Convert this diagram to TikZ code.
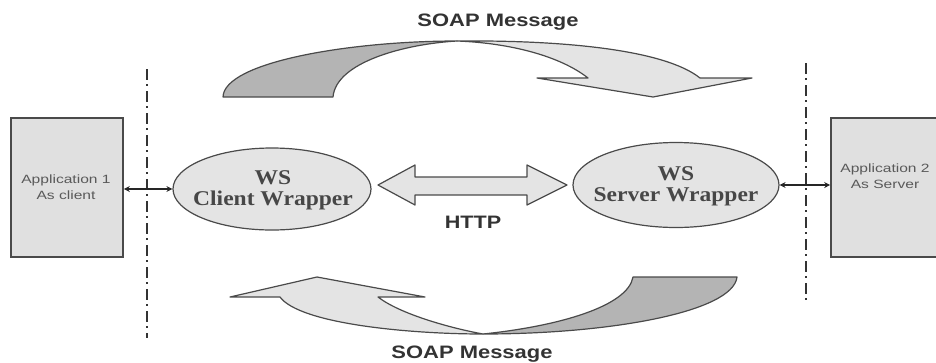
\documentclass[tikz,border=0pt]{standalone}
\usepackage{fontspec}
\usepackage{graphicx}
\usetikzlibrary{shapes.geometric,arrows.meta}
\setmainfont{Liberation Serif}
\newfontfamily\labelsans{Liberation Sans}
\newcommand{\hs}[2]{\scalebox{#1}[1]{#2}}
\definecolor{boxfill}{HTML}{E0E0E0}
\definecolor{lightfill}{HTML}{E4E4E4}
\definecolor{darkfill}{HTML}{B4B4B4}
\definecolor{edge}{HTML}{4A4A4A}
\begin{document}
\begin{tikzpicture}[x=1pt,y=-1pt,
  appbox/.style={draw=edge, line width=1.6pt, fill=boxfill, rectangle, inner sep=0pt},
  apptext/.style={font=\labelsans\fontsize{12}{16}\selectfont, text=black!65, inner sep=0pt},
  wsell/.style={draw=edge, line width=1.2pt, fill=lightfill, ellipse, inner sep=0pt},
  wstext/.style={font=\bfseries\fontsize{21}{21}\selectfont, text=black!72, inner sep=0pt},
  biglabel/.style={font=\labelsans\bfseries\fontsize{18}{18}\selectfont, text=black!80, inner sep=0pt},
  bandedge/.style={draw=edge, line width=1.2pt, line join=round},
  dashdot/.style={draw=black!80, line width=1.8pt, dash pattern=on 11pt off 4pt on 2pt off 5pt},
  smallarrow/.style={draw=black!85, line width=1.2pt, {Stealth[length=6pt,width=6pt]}-{Stealth[length=6pt,width=6pt]}}
]
\useasboundingbox (0,0) rectangle (936,362);
\clip (0,0) rectangle (936,362);

% vertical dash-dot separators
\coordinate (lt) at (147,69);
\coordinate (lb) at (147,338);
\coordinate (rt) at (806,63);
\coordinate (rb) at (806,302);
\draw[dashdot] (lt) -- (lb);
\draw[dashdot] (rt) -- (rb);

% application boxes
\node[appbox, minimum width=112pt, minimum height=139pt] (app1) at (67,187.5) {};
\node[apptext] (app1t) at (66,188) {\hs{1.3}{\begin{tabular}{@{}c@{}}Application 1\\As client\end{tabular}}};
\node[appbox, minimum width=108pt, minimum height=139pt] (app2) at (885,187.5) {};
\node[apptext] (app2t) at (885,177) {\hs{1.3}{\begin{tabular}{@{}c@{}}Application 2\\As Server\end{tabular}}};

% wrappers
\node[wsell, minimum width=198pt, minimum height=82pt] (wsc) at (272,189) {};
\node[wstext] (wsct) at (273,191) {\hs{1.12}{\begin{tabular}{@{}c@{}}WS\\Client Wrapper\end{tabular}}};
\node[wsell, minimum width=206pt, minimum height=85pt] (wss) at (676,185) {};
\node[wstext] (wsst) at (676,187) {\hs{1.12}{\begin{tabular}{@{}c@{}}WS\\Server Wrapper\end{tabular}}};

% small connectors
\draw[smallarrow] (app1.east |- wsc.west) -- (wsc.west);
\draw[smallarrow] (wss.east) -- (app2.west |- wss.east);

% HTTP double arrow
\draw[bandedge, fill=lightfill] (378,185) -- (415,165) -- (415,177) -- (527,177) -- (527,165)
  -- (567,185) -- (527,205) -- (527,195) -- (415,195) -- (415,205) -- cycle;
\node[biglabel] (http) at (473,222) {\hs{1.2}{HTTP}};

% top curved arrow (tail, dark)
\draw[bandedge, fill=darkfill] (223,97) .. controls (224,62) and (350,41) .. (457,41)
  .. controls (405,44) and (336,62) .. (333,97) -- cycle;
% top curved arrow (head, light)
\draw[bandedge, fill=lightfill] (457,41) .. controls (565,40) and (665,50) .. (700,78)
  -- (752,78) -- (653,97) -- (537,78) -- (588,78)
  .. controls (560,56) and (510,43) .. (457,41) -- cycle;
\node[biglabel] (soaptop) at (498,22) {\hs{1.22}{SOAP Message}};

% bottom curved arrow (tail, dark)
\draw[bandedge, fill=darkfill] (737,277) .. controls (733,312) and (610,334) .. (483,334)
  .. controls (560,326) and (628,306) .. (633,277) -- cycle;
% bottom curved arrow (head, light)
\draw[bandedge, fill=lightfill] (483,334) .. controls (410,334) and (300,324) .. (280,297)
  -- (230,297) -- (317,277) -- (425,297) -- (378,297)
  .. controls (400,314) and (450,328) .. (483,334) -- cycle;
\node[biglabel] (soapbot) at (472,354) {\hs{1.22}{SOAP Message}};
\end{tikzpicture}
\end{document}
